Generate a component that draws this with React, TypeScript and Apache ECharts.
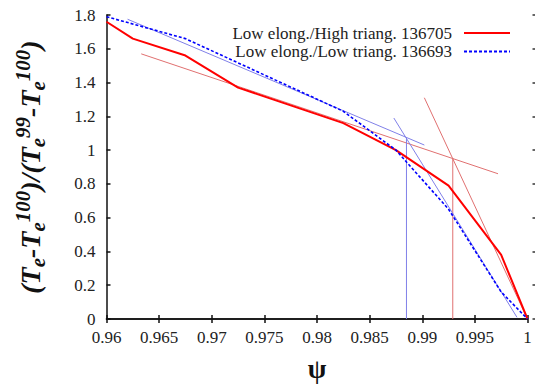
import React, { useEffect, useRef } from "react";
import * as echarts from "echarts";

const xTicks = [0.96, 0.965, 0.97, 0.975, 0.98, 0.985, 0.99, 0.995, 1];
const yTicks = [0, 0.2, 0.4, 0.6, 0.8, 1, 1.2, 1.4, 1.6, 1.8];

const redName = "Low elong./High triang. 136705";
const blueName = "Low elong./Low triang. 136693";

const psiRed = [0.96, 0.9625, 0.9675, 0.9725, 0.9825, 0.9875, 0.9925, 0.9975, 1.0];
const redVals = [1.76, 1.66, 1.56, 1.37, 1.16, 1.0, 0.79, 0.38, 0];

const psiBlue = [0.96, 0.9675, 0.9825, 0.9875, 0.9925, 0.9975, 1.0];
const blueVals = [1.79, 1.66, 1.23, 1.0, 0.65, 0.16, 0];

// thin fit lines (x pairs, y pairs)
const redFitAx = [0.9633, 0.9972];
const redFitAy = [1.57, 0.86];
const redFitBx = [0.9902, 1.0];
const redFitBy = [1.31, 0.0];
const redDropX = [0.9929, 0.9929];
const redDropY = [0.95, 0];
const blueFitAx = [0.962, 0.9902];
const blueFitAy = [1.775, 1.03];
const blueFitBx = [0.9873, 0.999];
const blueFitBy = [1.19, 0.01];
const blueDropX = [0.9885, 0.9885];
const blueDropY = [1.07, 0];

const zip = (xs: number[], ys: number[]) => xs.map((x, i) => [x, ys[i]]);

const SERIF = "'Liberation Serif', 'Times New Roman', serif";

export default function App() {
  const ref = useRef<HTMLDivElement>(null);
  useEffect(() => {
    if (!ref.current) return;
    const chart = echarts.init(ref.current, undefined, { renderer: "svg" });
    const thin = (name: string, data: number[][], color: string) => ({
      name,
      type: "line",
      data,
      symbol: "none",
      silent: true,
      lineStyle: { color, width: 1 },
      z: 1,
    });
    const axisFont = { fontFamily: SERIF, fontSize: 17, color: "#222" };
    const ti = { fontFamily: SERIF, fontWeight: "bold", fontStyle: "italic", color: "#111" };
    chart.setOption({
      animation: false,
      backgroundColor: "#fff",
      grid: { left: 106.5, right: 7.5, top: 15, bottom: 60.3 },
      legend: {
        data: [redName, blueName],
        orient: "vertical",
        right: 19,
        top: 19.5,
        align: "right",
        itemWidth: 46,
        itemHeight: 10,
        itemGap: 1.5,
        itemStyle: { opacity: 0 },
        textStyle: { fontFamily: SERIF, fontSize: 17, lineHeight: 15.5, color: "#222", padding: [0, 7, 0, 0] },
      },
      xAxis: [
        {
          type: "value",
          min: 0.96,
          max: 1,
          interval: 0.005,
          position: "bottom",
          axisLine: { lineStyle: { color: "#111", width: 1.5 } },
          axisTick: { inside: true, length: 4, lineStyle: { color: "#111", width: 1.5 } },
          splitLine: { show: false },
          axisLabel: { ...axisFont, margin: 10, formatter: (v: number) => String(+v.toFixed(3)) },
          name: "ψ",
          nameLocation: "middle",
          nameGap: 36,
          nameTextStyle: { fontFamily: SERIF, fontSize: 27, fontWeight: "bold", color: "#111" },
        },
        {
          type: "value",
          min: 0.96,
          max: 1,
          interval: 0.005,
          position: "top",
          axisLine: { show: true, lineStyle: { color: "#111", width: 1.5 } },
          axisTick: { show: true, inside: true, length: 4, lineStyle: { color: "#111", width: 1.5 } },
          axisLabel: { show: false },
          splitLine: { show: false },
        },
      ],
      yAxis: [
        {
          type: "value",
          min: 0,
          max: 1.8,
          interval: 0.2,
          axisLine: { show: true, lineStyle: { color: "#111", width: 1.5 } },
          axisTick: { show: true, inside: true, length: 4, lineStyle: { color: "#111", width: 1.5 } },
          splitLine: { show: false },
          axisLabel: { ...axisFont, margin: 11, formatter: (v: number) => String(+v.toFixed(1)) },
          name:
            "{p|(}{t|T}{s|e}{p|-}{t|T}{s|e}{u|100}{p|)/(}{t|T}{s|e}{u|99}{p|-}{t|T}{s|e}{u|100}{p|)}",
          nameLocation: "middle",
          nameRotate: 90,
          nameGap: 58,
          nameTextStyle: {
            rich: {
              p: { ...ti, fontSize: 28, lineHeight: 36 },
              t: { ...ti, fontSize: 28, lineHeight: 36 },
              s: { ...ti, fontSize: 21, lineHeight: 23, verticalAlign: "bottom" },
              u: { ...ti, fontSize: 21, lineHeight: 15, verticalAlign: "top" },
            },
          },
        },
        {
          type: "value",
          min: 0,
          max: 1.8,
          interval: 0.2,
          position: "right",
          offset: 5,
          axisLine: { show: false },
          axisTick: { show: true, inside: false, length: 3, lineStyle: { color: "#333", width: 1.5 } },
          axisLabel: { show: false },
          splitLine: { show: false },
        },
      ],
      series: [
        thin("redFitA", zip(redFitAx, redFitAy), "#e07070"),
        thin("redFitB", zip(redFitBx, redFitBy), "#e07070"),
        thin("redDrop", zip(redDropX, redDropY), "#e07070"),
        thin("blueFitA", zip(blueFitAx, blueFitAy), "#8080e8"),
        thin("blueFitB", zip(blueFitBx, blueFitBy), "#8080e8"),
        thin("blueDrop", zip(blueDropX, blueDropY), "#8080e8"),
        {
          name: redName,
          type: "line",
          data: zip(psiRed, redVals),
          symbol: "none",
          lineStyle: { color: "#ff0000", width: 2 },
          itemStyle: { color: "#ff0000" },
          z: 3,
        },
        {
          name: blueName,
          type: "line",
          data: zip(psiBlue, blueVals),
          symbol: "none",
          lineStyle: { color: "#0000ff", width: 1.6, type: [3, 2] },
          itemStyle: { color: "#0000ff" },
          z: 4,
        },
      ],
    });
    return () => chart.dispose();
  }, []);
  return <div ref={ref} style={{ width: 535, height: 387, position: "absolute", left: 0, top: 0 }} />;
}
